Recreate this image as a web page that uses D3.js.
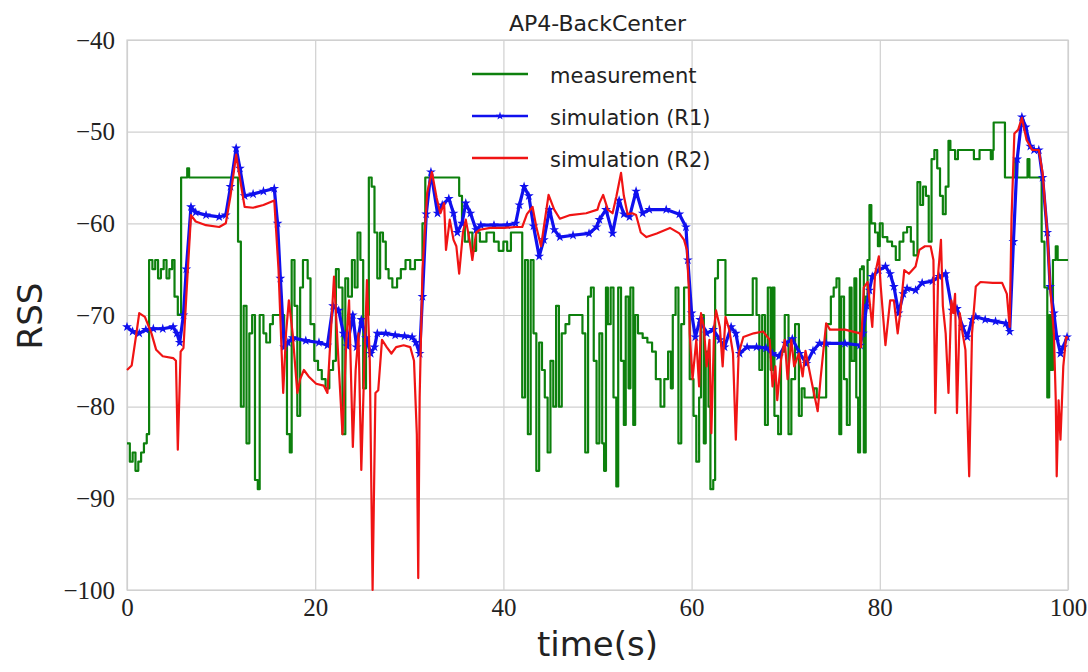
<!DOCTYPE html>
<html>
<head>
<meta charset="utf-8">
<script src="https://cdn.jsdelivr.net/npm/d3@7"></script>
<style>
  body { margin: 0; background: #fff; }
  .tick text { font-family: "Liberation Serif", serif; fill: #222; }
  .line { fill: none; stroke-linejoin: round; }
</style>
</head>
<body>
<div id="chart"></div>
<script>
// ---- data ----
var chartTitle = "AP4-BackCenter";
var seriesNames = ["measurement", "simulation (R1)", "simulation (R2)"];
var xTicks = [0, 20, 40, 60, 80, 100];
var yTicks = [-100, -90, -80, -70, -60, -50, -40];

// measurement (step-like)
var measT = [0, 0.3, 0.6, 0.9, 1.2, 1.5, 1.8, 2.1, 2.35, 2.7, 3.0, 3.3, 3.6, 3.9, 4.2, 4.5, 4.8, 5.05, 5.4, 5.75, 6.4, 6.6,
  11.8, 12.1, 12.4, 12.7, 13.0, 13.3, 13.6, 13.9, 14.1, 14.5, 14.8, 15.2, 15.5, 16.3, 16.7, 17.0, 17.3, 17.5, 17.8,
  18.1, 18.4, 18.7, 19.2, 19.5, 19.9, 20.3, 20.7, 21.1, 21.5, 21.9, 22.2, 22.5, 22.9, 23.2, 23.5, 23.9, 24.2, 24.5,
  24.8, 25.1, 25.4, 25.7, 26.0, 26.3, 26.6, 26.9, 27.2, 27.5, 27.8, 28.2, 28.7, 29.1, 29.6, 30.1, 30.6, 31.1, 31.4,
  31.7, 35.3, 35.6, 35.9, 36.3, 36.7, 37.1, 37.5, 38.2, 39.0, 39.5, 40.0, 40.4, 40.8, 41.5, 42.0, 42.3, 42.6, 42.9,
  43.2, 43.5, 43.8, 44.1, 44.4, 44.7, 45.0, 45.3, 45.6, 45.9, 46.2, 46.6, 47.0, 48.0, 48.4, 48.7, 49.0, 49.3, 49.6,
  49.9, 50.2, 50.5, 50.7, 50.9, 51.1, 51.4, 51.7, 52.0, 52.2, 52.5, 52.8, 53.0, 53.3, 53.5, 53.8, 54.0, 54.3, 54.8,
  55.3, 55.8, 56.2, 56.7, 57.1, 57.5, 57.8, 58.0, 58.3, 58.6, 58.9, 59.2, 59.6, 59.8, 60.2, 60.5, 60.8, 61.0, 61.3,
  61.5, 61.8, 62.0, 62.3, 62.5, 62.8, 63.3, 63.6, 66.2, 66.5, 66.9, 67.2, 67.5, 67.8, 68.1, 68.4, 68.6, 68.8, 69.2,
  69.5, 69.9, 70.3, 70.6, 71.0, 71.4, 71.7, 72.0, 73.0, 73.3, 74.0, 74.3, 74.8, 75.1, 75.4, 75.7, 75.9, 76.2, 76.5,
  76.8, 77.0, 77.3, 77.5, 77.7, 77.9, 78.1, 78.3, 78.5, 78.7, 78.9, 79.1, 79.5, 79.8, 80.0, 80.3, 80.8, 81.3, 81.7,
  82.1, 82.5, 82.9, 83.3, 83.6, 84.0, 84.3, 84.6, 84.9, 85.2, 85.5, 85.8, 86.1, 86.4, 86.7, 87.0, 87.3, 87.5, 88.0,
  88.3, 90.0, 90.6, 91.8, 92.0, 92.1, 93.3, 94.4, 94.6, 95.7, 95.9, 96.9, 97.2, 97.5, 97.8, 98.0, 98.2, 98.4, 98.7,
  98.9, 100];
var measV = [-84, -86, -85, -87, -86, -85, -84, -83, -64, -65, -64, -66, -65, -64, -66, -65, -64, -68, -70, -55, -54, -55,
  -62, -80, -69, -84, -72, -70, -88, -89, -70, -72, -73, -71, -70, -70, -73, -83, -85, -64, -69,
  -81, -67, -64, -66, -71, -75, -76, -77, -78, -76, -75, -65, -67, -83, -66, -68, -64, -67, -61,
  -64, -78, -70, -55, -56, -61, -66, -61, -62, -65, -66, -67, -66, -65, -64, -65, -64, -64, -60,
  -55, -57, -60, -62, -61, -63, -61, -62, -61, -62, -63, -62, -63, -61, -61, -79, -64, -83, -64,
  -72, -87, -73, -76, -79, -85, -75, -80, -69, -80, -72, -71, -70, -70, -72, -85, -68, -67, -75,
  -84, -72, -84, -87, -67, -71, -67, -79, -88.7, -67, -75, -82, -68, -78, -67, -82, -70, -72, -72.5,
  -73, -74, -77, -80, -77, -74, -78, -70, -67, -84, -71, -67, -67, -77, -81, -86, -79, -70, -84,
  -74, -80, -89, -88, -66, -64, -64, -70, -70, -66, -70, -76, -70, -82, -67, -76, -67, -81, -83,
  -74, -70, -83, -77, -71, -81, -78, -79, -78, -79, -79, -71, -68, -67, -66, -83, -68, -77, -82,
  -67, -75, -66, -79, -85, -65, -64.7, -85, -68, -64, -58, -60, -61, -62.5, -60, -61.5, -62, -62.5, -64,
  -62, -61, -60.4, -62, -63.5, -55.5, -58, -56, -57, -62, -53, -52, -54, -57, -59, -56, -51, -52, -53,
  -52, -53, -52, -53, -52, -49, -55, -53, -55, -53, -55, -55, -62, -67, -79, -70, -76, -64, -62.5,
  -64, -64];

// simulation (R1)
var r1T = [0, 0.6, 1.3, 2.0, 2.8, 3.8, 4.9, 5.3, 5.6, 6.0, 6.3, 6.8, 7.3, 8.4, 9.8, 10.5, 11.0, 11.6, 12.0, 12.5, 13.4,
  14.5, 15.65, 16.0, 16.3, 16.7, 17.1, 17.6, 19.0, 20.4, 21.3, 21.9, 22.5, 23.0, 23.4, 24.0, 24.4, 24.9, 25.4, 25.9,
  26.3, 26.6, 27.5, 28.5, 29.5, 30.3, 30.7, 31.1, 31.4, 31.8, 32.3, 33.0, 33.5, 34.2, 34.7, 35.1, 35.6, 36.0, 36.5,
  37.1, 37.6, 39.0, 40.4, 41.3, 41.7, 42.2, 42.7, 43.2, 43.8, 44.3, 44.9, 45.4, 46.0, 47.4, 49.1, 49.9, 50.2, 50.9,
  51.6, 52.3, 52.8, 53.4, 54.1, 54.8, 55.5, 57.3, 58.7, 59.4, 59.6, 60.0, 60.4, 60.9, 61.6, 62.3, 63.0, 63.5, 64.2,
  64.7, 65.1, 65.9, 66.9, 67.9, 68.6, 69.3, 70.0, 70.7, 71.5, 72.2, 72.9, 73.6, 74.3, 76.3, 77.9, 78.2, 78.6, 78.9,
  79.2, 79.9, 80.6, 81.1, 81.5, 82.0, 82.5, 82.9, 83.8, 84.5, 85.6, 86.3, 87.0, 87.7, 88.2, 88.8, 89.3, 89.8, 90.2,
  91.2, 92.3, 93.4, 93.8, 94.2, 94.6, 95.1, 95.5, 96.0, 96.4, 96.9, 97.3, 97.8, 98.1, 98.5, 98.8, 99.2, 99.5, 99.9];
var r1V = [-71.3, -71.8, -72, -71.6, -71.5, -71.5, -71.3, -72, -73, -70, -65, -58.2, -58.8, -59.1, -59.3, -59.1, -56, -51.8, -54, -57, -56.8,
  -56.5, -56.2, -60, -66, -73.5, -73, -72.5, -72.8, -73, -73.3, -69, -69.5, -72, -73.4, -70, -73.5, -70.5, -72.5, -74.2,
  -73.5, -72, -72, -72.2, -72.3, -72.4, -73, -74.2, -68, -59, -54.4, -58.9, -58, -57.3, -58.9, -61, -60, -57.8, -58.9,
  -60.7, -60.2, -60.2, -60.2, -60, -58, -56, -57, -60.3, -63.6, -61.8, -58.5, -60.7, -61.5, -61.3, -61.1, -60.4, -59.6, -58.5,
  -61.1, -57.5, -59, -59.3, -56.5, -58.9, -58.5, -58.5, -59, -60.4, -64, -69.8, -72.4, -70.5, -72, -71.6, -72.7, -73.5, -71.3,
  -72, -74.2, -73.5, -73.5, -73.6, -74.2, -74.5, -73.1, -72.6, -74.2, -75.3, -73.9, -73.1, -73.1, -73.1, -73.3, -72, -69, -67.3,
  -65.8, -65.1, -64.7, -65.5, -66.9, -69.8, -67.7, -67.1, -67.3, -66.5, -66.3, -65.8, -65.5, -69.5, -69.3, -71.3, -72.4, -70.5, -70.2,
  -70.5, -70.7, -70.9, -71.8, -62, -53, -48.4, -49.5, -51.6, -52, -52, -55, -61, -66.9, -69.8, -72.4, -74.2, -73.5, -72.4];

// simulation (R2)
var r2T = [0, 0.5, 1.0, 1.3, 1.9, 2.6, 3.1, 3.8, 4.9, 5.2, 5.4, 5.7, 6.0, 6.3, 6.8, 7.3, 8.4, 9.8, 10.5, 11.0, 11.6,
  11.9, 12.5, 13.4, 14.5, 15.65, 16.1, 16.6, 16.9, 17.2, 17.6, 18.1, 18.4, 18.8, 19.3, 20.1, 20.9, 21.3, 22.0, 22.5,
  22.9, 23.3, 23.6, 24.0, 24.3, 24.6, 24.9, 25.2, 25.5, 25.8, 26.1, 26.4, 26.7, 27.1, 27.6, 28.1, 28.6, 29.4, 30.1,
  30.5, 30.8, 30.95, 31.1, 31.4, 31.9, 32.4, 32.9, 33.3, 33.7, 33.9, 34.3, 34.7, 35.0, 35.3, 35.7, 36.0, 36.4, 36.7,
  37.1, 37.5, 38.6, 40.0, 41.3, 42.0, 42.5, 43.1, 43.5, 44.0, 44.3, 44.8, 45.4, 46.0, 47.1, 48.8, 50.0, 50.2, 50.6,
  51.1, 51.6, 52.0, 52.5, 52.8, 53.2, 53.7, 54.1, 54.6, 55.2, 56.3, 57.7, 58.7, 59.2, 59.5, 59.7, 59.8, 60.1, 60.5,
  60.8, 61.0, 61.3, 61.6, 61.9, 62.1, 62.4, 62.6, 63.0, 63.3, 63.6, 64.0, 64.4, 64.7, 65.0, 65.5, 66.6, 67.6, 68.3,
  68.6, 68.9, 69.1, 69.5, 69.9, 70.2, 70.6, 70.9, 71.4, 71.8, 72.1, 72.7, 73.0, 73.4, 73.7, 74.3, 74.7, 76.3, 77.9,
  78.0, 78.3, 78.7, 79.2, 79.5, 79.9, 80.1, 80.6, 81.1, 81.5, 81.9, 82.2, 82.6, 83.1, 83.8, 84.2, 84.8, 85.4, 85.7,
  85.9, 86.2, 86.5, 86.7, 87.0, 87.3, 87.6, 87.8, 88.0, 88.2, 88.5, 88.8, 89.1, 89.5, 89.8, 90.2, 90.7, 92.0, 93.0,
  93.5, 93.8, 94.0, 94.3, 94.7, 95.1, 95.6, 96.2, 96.9, 97.3, 97.8, 98.1, 98.5, 98.7, 98.8, 99.0, 99.2, 99.5, 99.8, 100];
var r2V = [-76, -75.5, -72, -69.8, -70.2, -72, -73.8, -74.5, -74.7, -75, -84.7, -74, -73.6, -68, -59.1, -59.8, -60.2, -60.4, -60, -57, -52.5,
  -54.5, -58.2, -58.3, -58, -57.5, -65, -78.5, -72, -68.4, -72, -78.5, -77, -76, -76.7, -77.5, -77.7, -78.5, -65.8, -75.5,
  -83, -73, -68.4, -84.4, -76, -72, -86.9, -76, -66.2, -75, -100, -78.5, -78.2, -72.7, -73.5, -74.2, -73.5, -73.3, -73.5,
  -75, -83, -98.7, -79, -65, -56.7, -54.4, -57.2, -58.9, -57.8, -62.9, -59.6, -61.8, -62.5, -65.5, -61, -59.6, -61.8, -64,
  -61, -60.7, -60.5, -60.5, -60.4, -60.4, -59, -58.2, -60.4, -62.5, -60.4, -56.9, -58.5, -59.5, -59.1, -58.9, -58.5, -57.8, -56.9,
  -58.5, -58.9, -57.1, -54.5, -57, -59, -58.9, -59.1, -61, -61.5, -61.1, -60.5, -61.1, -61.8, -62.9, -67, -72, -77, -72.7,
  -77.8, -69.8, -71.3, -75.6, -72.7, -82.9, -71.3, -69.5, -71.3, -75.6, -70.2, -71.6, -74.2, -83.6, -74.2, -72.4, -72, -71.8, -72.7,
  -77.8, -75.6, -79.3, -74.9, -72.7, -77, -72.7, -75.6, -74.2, -76.7, -73.9, -77, -78.5, -80.5, -77, -70.9, -71.6, -71.6, -72,
  -73.5, -67, -66.4, -71.3, -65.5, -63.6, -66.9, -73.3, -68.4, -68.4, -72, -69.5, -65.1, -65.5, -64.7, -62.9, -62.5, -62.5, -64,
  -80.7, -65.5, -61.8, -69, -72, -78.5, -68.4, -69.8, -67.7, -80.7, -69.8, -72, -73.8, -87.6, -72, -66.9, -66.4, -66.5, -66.5,
  -67.7, -71.3, -59.4, -50.2, -49.8, -48.5, -50.9, -52, -52, -54.5, -61, -66.9, -72, -79.3, -87.6, -79.3, -83.6, -75.6, -72.4, -72.5];

var colors = ["#0d800d", "#1010ee", "#f01414"];

// ---- layout ----
var W = 1088, H = 672;
var margin = { top: 40, right: 20, bottom: 82, left: 127 };
var width = W - margin.left - margin.right;   // 941
var height = H - margin.top - margin.bottom;  // 550

var svg = d3.select("#chart").append("svg")
  .attr("width", W)
  .attr("height", H);

var g = svg.append("g")
  .attr("transform", "translate(" + margin.left + "," + margin.top + ")");

var xScale = d3.scaleLinear().domain([0, 100]).range([0, width]);
var yScale = d3.scaleLinear().domain([-100, -40]).range([height, 0]);

// grid lines
g.append("g")
  .attr("class", "grid")
  .attr("transform", "translate(0," + height + ")")
  .call(d3.axisBottom(xScale).tickValues(xTicks).tickSize(-height).tickFormat(""))
  .call(function (s) { s.select(".domain").remove(); })
  .selectAll("line").attr("stroke", "#d0d0d0").attr("stroke-width", 1.2);

g.append("g")
  .attr("class", "grid")
  .call(d3.axisLeft(yScale).tickValues(yTicks).tickSize(-width).tickFormat(""))
  .call(function (s) { s.select(".domain").remove(); })
  .selectAll("line").attr("stroke", "#d0d0d0").attr("stroke-width", 1.2);

// frame
g.append("rect")
  .attr("width", width)
  .attr("height", height)
  .attr("fill", "none")
  .attr("stroke", "#d0d0d0")
  .attr("stroke-width", 1.2);

// tick labels
var xAxis = g.append("g")
  .attr("transform", "translate(0," + height + ")")
  .call(d3.axisBottom(xScale).tickValues(xTicks).tickSize(0).tickPadding(8).tickFormat(d3.format("d")));
xAxis.select(".domain").remove();
xAxis.selectAll("text").attr("font-size", "25px");

var yAxis = g.append("g")
  .call(d3.axisLeft(yScale).tickValues(yTicks).tickSize(0).tickPadding(12).tickFormat(d3.format("d")));
yAxis.select(".domain").remove();
yAxis.selectAll("text").attr("font-size", "25px");

// lines
var series = [
  { t: measT, v: measV, curve: d3.curveStepAfter },
  { t: r1T, v: r1V, curve: d3.curveLinear },
  { t: r2T, v: r2V, curve: d3.curveLinear }
];

var plot = g.append("g");

series.forEach(function (s, i) {
  var pts = s.t.map(function (t, j) { return [t, s.v[j]]; });
  var line = d3.line()
    .x(function (d) { return xScale(d[0]); })
    .y(function (d) { return yScale(d[1]); })
    .curve(s.curve);
  plot.append("path")
    .datum(pts)
    .attr("class", "line")
    .attr("stroke", colors[i])
    .attr("stroke-width", i == 1 ? 3.2 : 2.2)
    .attr("d", line);
  if (i == 1) {
    // star markers on the R1 samples
    plot.selectAll(".star")
      .data(pts)
      .enter().append("path")
      .attr("class", "star")
      .attr("transform", function (d) { return "translate(" + xScale(d[0]) + "," + yScale(d[1]) + ")"; })
      .attr("d", d3.symbol().type(d3.symbolStar).size(30))
      .attr("fill", colors[1]);
  }
});

// legend
var legend = g.append("g").attr("transform", "translate(345,34)");
seriesNames.forEach(function (name, i) {
  var row = legend.append("g").attr("transform", "translate(0," + (i * 42) + ")");
  row.append("line")
    .attr("x1", 0).attr("x2", 56)
    .attr("stroke", colors[i])
    .attr("stroke-width", 2.4);
  if (i == 1) {
    row.append("path")
      .attr("transform", "translate(28,0)")
      .attr("d", d3.symbol().type(d3.symbolStar).size(22))
      .attr("fill", colors[1]);
  }
  row.append("text")
    .attr("x", 78).attr("y", 9)
    .attr("font-family", "DejaVu Sans, sans-serif")
    .attr("font-size", "21px")
    .attr("fill", "#222")
    .text(name);
});

// title and axis labels
svg.append("text")
  .attr("x", margin.left + width / 2).attr("y", 31)
  .attr("text-anchor", "middle")
  .attr("font-family", "DejaVu Sans, sans-serif")
  .attr("font-size", "22px")
  .attr("fill", "#222")
  .text(chartTitle);

svg.append("text")
  .attr("x", margin.left + width / 2).attr("y", 656)
  .attr("text-anchor", "middle")
  .attr("font-family", "DejaVu Sans, sans-serif")
  .attr("font-size", "34px")
  .attr("fill", "#222")
  .text("time(s)");

svg.append("text")
  .attr("transform", "translate(42,316) rotate(-90)")
  .attr("text-anchor", "middle")
  .attr("font-family", "DejaVu Sans, sans-serif")
  .attr("font-size", "34px")
  .attr("fill", "#222")
  .text("RSS");
</script>
</body>
</html>
